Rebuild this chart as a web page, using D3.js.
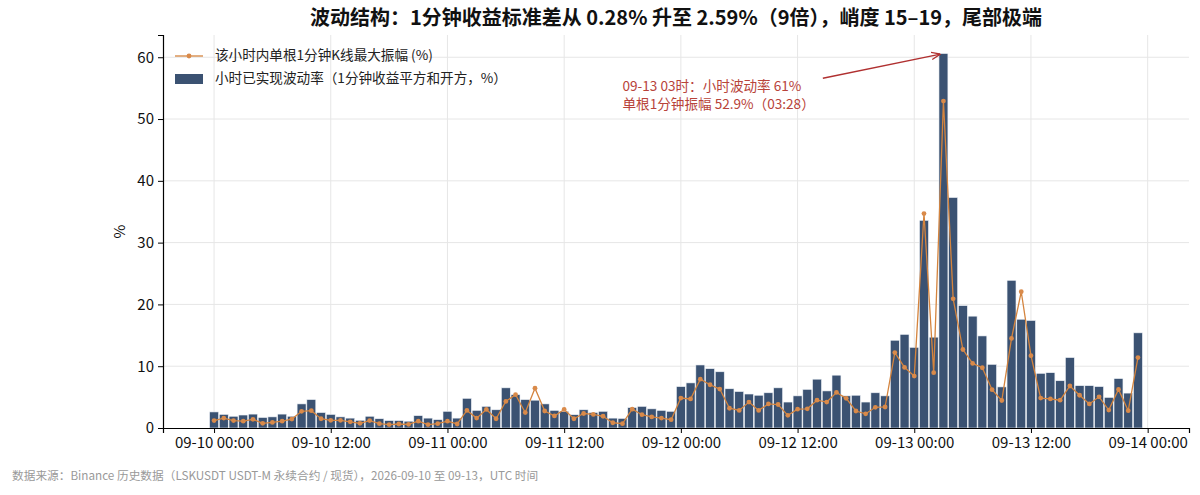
<!DOCTYPE html>
<html>
<head>
<meta charset="utf-8">
<script src="https://cdn.jsdelivr.net/npm/d3@7"></script>
<style>
  body { margin: 0; background: #fff; }
  svg { font-family: "Noto Sans CJK SC", "Noto Sans", sans-serif; }
</style>
</head>
<body>
<svg id="chart"></svg>
<script>
// hourly data, 09-10 00:00 .. 09-13 23:00 UTC
const startTime = "2026-09-10T00:00:00Z";
const hourCount = 96;

// realised hourly volatility (%)
const hourlyVol = [
  2.6, 2.2, 1.9, 2.1, 2.25, 1.7, 1.8, 2.25, 1.9, 3.9, 4.6, 2.5,
  2.2, 1.8, 1.6, 1.25, 1.9, 1.5, 1.2, 1.2, 1.1, 2.0, 1.6, 1.35,
  2.7, 1.6, 4.8, 2.85, 3.5, 2.95, 6.5, 5.4, 4.6, 4.5, 3.9, 2.85,
  2.7, 2.15, 2.95, 2.5, 2.7, 1.6, 1.55, 3.3, 3.5, 3.1, 2.85, 2.7,
  6.7, 7.3, 10.2, 9.6, 9.1, 6.35, 5.9, 5.5, 5.3, 5.7, 6.5, 4.2,
  5.2, 6.25, 7.9, 6.0, 8.55, 5.2, 5.3, 4.2, 5.7, 5.2, 14.2, 15.15,
  13.05, 33.6, 14.7, 60.6, 37.3, 19.8, 18.1, 14.9, 10.3, 6.65, 23.9, 17.6,
  17.4, 8.85, 8.95, 7.65, 11.4, 6.85, 6.85, 6.7, 4.95, 8.0, 5.65, 15.4
];

// largest single 1-minute candle range within the hour (%)
const maxRange = [
  1.2, 1.6, 1.2, 1.1, 1.4, 0.75, 0.9, 1.1, 1.45, 2.7, 2.8, 1.5,
  1.25, 1.25, 1.0, 0.75, 1.2, 0.7, 0.55, 0.65, 0.6, 1.1, 0.55, 0.7,
  1.1, 0.65, 2.85, 1.6, 3.0, 1.5, 4.3, 5.4, 2.5, 6.45, 2.75, 1.95,
  3.0, 1.5, 2.35, 2.2, 1.9, 0.85, 0.7, 3.05, 2.15, 1.8, 1.6, 1.35,
  4.85, 4.7, 7.9, 7.0, 6.3, 3.2, 2.85, 4.2, 2.85, 3.9, 3.8, 2.05,
  3.05, 3.1, 4.5, 4.2, 5.75, 4.8, 2.75, 2.3, 3.35, 3.4, 12.2, 9.8,
  8.4, 34.7, 8.95, 52.9, 20.9, 12.7, 10.45, 9.75, 6.2, 4.45, 14.5, 22.05,
  11.7, 4.85, 4.7, 4.5, 6.8, 5.3, 3.9, 5.05, 2.9, 6.25, 2.8, 11.4
];

const yTicks = [0, 10, 20, 30, 40, 50, 60];
const xTickLabels = ["09-10 00:00", "09-10 12:00", "09-11 00:00", "09-11 12:00",
  "09-12 00:00", "09-12 12:00", "09-13 00:00", "09-13 12:00", "09-14 00:00"];

const titleText = "波动结构：1分钟收益标准差从 0.28% 升至 2.59%（9倍），峭度 15–19，尾部极端";
const legendLabels = ["该小时内单根1分钟K线最大振幅 (%)", "小时已实现波动率（1分钟收益平方和开方，%）"];
const noteLines = ["09-13 03时：小时波动率 61%", "单根1分钟振幅 52.9%（03:28）"];
const sourceText = "数据来源：Binance 历史数据（LSKUSDT USDT-M 永续合约 / 现货），2026-09-10 至 09-13，UTC 时间";

const width = 1200;
const height = 495;
const margin = {top: 35, right: 11, bottom: 67, left: 163};

const barColor = "#3b5272";
const lineColor = "#d4843e";
const noteColor = "#b8433a";

const svg = d3.select("#chart").attr("width", width).attr("height", height);

const t0 = new Date(startTime);
const hours = d3.utcHour.range(t0, d3.utcHour.offset(t0, hourCount));
const data = hours.map((h, i) => ({time: h, vol: hourlyVol[i], range: maxRange[i]}));

const x = d3
  .scaleUtc()
  .domain([d3.utcMinute.offset(t0, -315), d3.utcMinute.offset(t0, 100 * 60 + 15)])
  .range([margin.left, width - margin.right]);

const y = d3
  .scaleLinear()
  .domain([0, 63.6])
  .range([height - margin.bottom, margin.top]);

const hourPx = x(d3.utcHour.offset(t0, 1)) - x(t0);
const xTicks = xTickLabels.map((d, i) => d3.utcHour.offset(t0, i * 12));

// grid
svg.append("g")
  .selectAll("line")
  .data(yTicks.slice(1))
  .enter()
  .append("line")
  .attr("x1", margin.left)
  .attr("x2", width - margin.right)
  .attr("y1", (d) => y(d))
  .attr("y2", (d) => y(d))
  .attr("stroke", "#e6e6e6")
  .attr("stroke-width", 1);

svg.append("g")
  .selectAll("line")
  .data(xTicks)
  .enter()
  .append("line")
  .attr("x1", (d) => x(d))
  .attr("x2", (d) => x(d))
  .attr("y1", margin.top)
  .attr("y2", height - margin.bottom)
  .attr("stroke", "#e6e6e6")
  .attr("stroke-width", 1);

// bars
svg.append("g")
  .selectAll("rect")
  .data(data)
  .enter()
  .append("rect")
  .attr("x", (d) => x(d.time) - hourPx * 0.46)
  .attr("width", hourPx * 0.92)
  .attr("y", (d) => y(d.vol))
  .attr("height", (d) => y(0) - y(d.vol))
  .attr("fill", barColor)
  .attr("stroke", "#eef2f7")
  .attr("stroke-width", 0.6);

// line
const line = d3.line().x((d) => x(d.time)).y((d) => y(d.range));

svg.append("path")
  .datum(data)
  .attr("d", line)
  .attr("fill", "none")
  .attr("stroke", lineColor)
  .attr("stroke-width", 1.3);

svg.append("g")
  .selectAll("circle")
  .data(data)
  .enter()
  .append("circle")
  .attr("cx", (d) => x(d.time))
  .attr("cy", (d) => y(d.range))
  .attr("r", 2.4)
  .attr("fill", "#d98a4a");

// axes
const yAxis = d3.axisLeft(y).tickValues(yTicks).tickSize(5).tickPadding(4);
svg.append("g")
  .attr("transform", `translate(${margin.left},0)`)
  .call(yAxis)
  .call((g) => g.select(".domain").attr("stroke", "#000").attr("stroke-width", 1.2))
  .call((g) => g.selectAll("text").attr("font-size", "15px").attr("fill", "#111")
    .attr("font-family", "Noto Sans CJK SC"));

const xAxis = d3.axisBottom(x).tickValues(xTicks)
  .tickFormat((d, i) => xTickLabels[i]).tickSize(5).tickPadding(4);
svg.append("g")
  .attr("transform", `translate(0,${height - margin.bottom})`)
  .call(xAxis)
  .call((g) => g.select(".domain").attr("stroke", "#000").attr("stroke-width", 1.2))
  .call((g) => g.selectAll("text").attr("font-size", "15px").attr("fill", "#111")
    .attr("font-family", "Noto Sans CJK SC"));

svg.append("text")
  .attr("transform", `translate(121,${(margin.top + height - margin.bottom) / 2}) rotate(-90)`)
  .attr("text-anchor", "middle")
  .attr("dominant-baseline", "middle")
  .attr("font-size", "15px")
  .attr("fill", "#111")
  .text("%");

// title
svg.append("text")
  .attr("x", (margin.left + width - margin.right) / 2)
  .attr("y", 20)
  .attr("text-anchor", "middle")
  .attr("dominant-baseline", "middle")
  .attr("font-size", "20px")
  .attr("font-weight", "bold")
  .attr("fill", "#111")
  .text(titleText);

// legend
const legend = svg.append("g").attr("transform", "translate(175,56)");
legend.append("line")
  .attr("x1", 0).attr("x2", 28).attr("y1", 0).attr("y2", 0)
  .attr("stroke", lineColor).attr("stroke-width", 1.3);
legend.append("circle").attr("cx", 14).attr("cy", 0).attr("r", 2.4).attr("fill", "#d98a4a");
legend.append("rect")
  .attr("x", 0).attr("y", 18).attr("width", 28).attr("height", 10)
  .attr("fill", barColor);
legend.selectAll("text")
  .data(legendLabels)
  .enter()
  .append("text")
  .attr("x", 40)
  .attr("y", (d, i) => i * 23)
  .attr("dominant-baseline", "middle")
  .attr("font-size", "13.6px")
  .attr("fill", "#222")
  .text((d) => d);

// annotation at the 09-13 03:00 spike
const peak = data[75];
svg.append("defs")
  .append("marker")
  .attr("id", "arrow")
  .attr("viewBox", [0, 0, 10, 10])
  .attr("refX", 10)
  .attr("refY", 5)
  .attr("markerWidth", 7)
  .attr("markerHeight", 7)
  .attr("orient", "auto")
  .append("path")
  .attr("d", "M 0 1 L 10 5 L 0 9")
  .attr("fill", "none")
  .attr("stroke", "#b03030")
  .attr("stroke-width", 1.4);

const noteX = x(d3.utcHour.offset(t0, 42));
const noteY = y(55.1);
svg.append("line")
  .attr("x1", x(d3.utcMinute.offset(t0, 62.6 * 60)))
  .attr("y1", y(56.6))
  .attr("x2", x(peak.time) - 3)
  .attr("y2", y(peak.vol) + 0.5)
  .attr("stroke", "#b03030")
  .attr("stroke-width", 1.3)
  .attr("marker-end", "url(#arrow)");

svg.append("g")
  .selectAll("text")
  .data(noteLines)
  .enter()
  .append("text")
  .attr("x", noteX)
  .attr("y", (d, i) => noteY + i * 18)
  .attr("dominant-baseline", "middle")
  .attr("font-size", "13.6px")
  .attr("fill", noteColor)
  .text((d) => d);

// source
svg.append("text")
  .attr("x", 12)
  .attr("y", 477)
  .attr("dominant-baseline", "middle")
  .attr("font-size", "11.7px")
  .attr("fill", "#999")
  .text(sourceText);
</script>
</body>
</html>
